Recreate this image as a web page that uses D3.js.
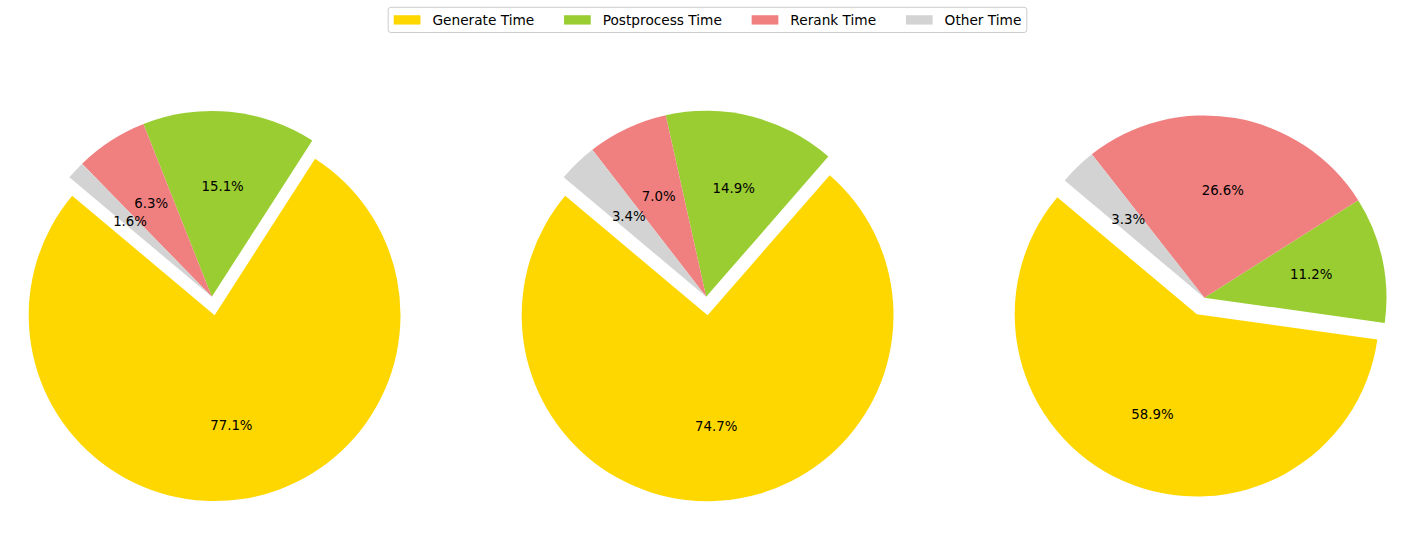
<!DOCTYPE html>
<html>
<head>
<meta charset="utf-8">
<script src="https://cdn.jsdelivr.net/npm/d3@7"></script>
<style>
  html, body { margin: 0; padding: 0; background: #fff; }
  text { font-family: "DejaVu Sans", sans-serif; }
</style>
</head>
<body>
<script>
// ---------------- data ----------------
const categories = ["Generate Time", "Postprocess Time", "Rerank Time", "Other Time"];
const pie1Values = [77.1, 15.1, 6.3, 1.6];
const pie2Values = [74.7, 14.9, 7.0, 3.4];
const pie3Values = [58.9, 11.2, 26.6, 3.3];
const explodeValues = [0.1, 0, 0, 0];

// ---------------- style / layout ----------------
const colors = ["#FFD700", "#9ACD32", "#F08080", "#D3D3D3"];
const W = 1415, H = 547;
const startAngleDeg = 140;           // matplotlib-style start angle (counter-clockwise from +x)
const axesCentersX = [214.6, 707.6, 1200.6];
const axesCenterY = 306;
const axesW = 409, axesH = 440, margin = 0.05;
const fontSize = 13.33;
const legendFontSize = 13.7;

const svg = d3.select("body").append("svg").attr("width", W).attr("height", H);

const a0 = Math.PI / 2 - startAngleDeg * Math.PI / 180;
const pieGen = d3.pie().sort(null).value(d => d).startAngle(a0).endAngle(a0 - 2 * Math.PI);

function drawPie(values, acx, acy) {
  const arcsData = pieGen(values);
  arcsData.forEach((d, i) => {
    const m = (d.startAngle + d.endAngle) / 2;
    d.mid = m;
    d.ox = explodeValues[i] * Math.sin(m);
    d.oy = explodeValues[i] * Math.cos(m);
  });
  let xs = [], ys = [];
  arcsData.forEach(d => {
    const lo = Math.min(d.startAngle, d.endAngle), hi = Math.max(d.startAngle, d.endAngle);
    const angs = [lo, hi];
    for (let k = Math.ceil(lo / (Math.PI / 2)); k * Math.PI / 2 <= hi; k++) angs.push(k * Math.PI / 2);
    xs.push(d.ox); ys.push(d.oy);
    angs.forEach(a => { xs.push(d.ox + Math.sin(a)); ys.push(d.oy + Math.cos(a)); });
  });
  const xmin = d3.min(xs), xmax = d3.max(xs), ymin = d3.min(ys), ymax = d3.max(ys);
  const dx = xmax - xmin, dy = ymax - ymin;
  const s = Math.min(axesW / (dx * (1 + 2 * margin)), axesH / (dy * (1 + 2 * margin)));
  const mx = (xmin + xmax) / 2, my = (ymin + ymax) / 2;
  const px = x => acx + (x - mx) * s;
  const py = y => acy - (y - my) * s;

  const arc = d3.arc().innerRadius(0).outerRadius(s);
  const g = svg.append("g");
  g.selectAll("path.slice").data(arcsData).join("path")
    .attr("class", "slice")
    .attr("transform", d => `translate(${px(d.ox)},${py(d.oy)})`)
    .attr("d", arc)
    .attr("fill", (d, i) => colors[i]);

  g.selectAll("text.pct").data(arcsData).join("text")
    .attr("class", "pct")
    .attr("x", d => px(d.ox + 0.6 * Math.sin(d.mid)))
    .attr("y", d => py(d.oy + 0.6 * Math.cos(d.mid)))
    .attr("dy", "0.36em")
    .attr("text-anchor", "middle")
    .attr("font-size", fontSize)
    .attr("fill", "#000")
    .text(d => d.data.toFixed(1) + "%");
}

drawPie(pie1Values, axesCentersX[0], axesCenterY);
drawPie(pie2Values, axesCentersX[1], axesCenterY);
drawPie(pie3Values, axesCentersX[2], axesCenterY);

// ---------------- legend ----------------
const em = fontSize;
const handleW = 26.7, handleH = 0.7 * em, handlePad = 12, colSpacing = 29.8;
const padL = 5.6, padR = 5.5;
const legend = svg.append("g");
const frame = legend.append("rect");
const items = legend.selectAll("g.item").data(categories).join("g").attr("class", "item");
items.append("rect").attr("width", handleW).attr("height", handleH).attr("fill", (d, i) => colors[i]);
const texts = items.append("text").attr("font-size", legendFontSize).attr("fill", "#000").text(d => d);
const widths = [];
texts.each(function () { widths.push(this.getComputedTextLength()); });
let totalW = 0;
widths.forEach((w, i) => { totalW += handleW + handlePad + w + (i < widths.length - 1 ? colSpacing : 0); });
const boxW = totalW + padL + padR;
const boxH = 25.2;
const boxX = W / 2 - boxW / 2, boxY = 7.3;
frame.attr("x", boxX).attr("y", boxY).attr("width", boxW).attr("height", boxH)
  .attr("rx", 2.7).attr("ry", 2.7)
  .attr("fill", "#fff").attr("fill-opacity", 0.8)
  .attr("stroke", "#cccccc").attr("stroke-width", 1);
let cx = boxX + padL;
const midY = boxY + boxH / 2;
items.each(function (d, i) {
  const gi = d3.select(this);
  gi.select("rect").attr("x", cx).attr("y", midY - handleH / 2);
  gi.select("text").attr("x", cx + handleW + handlePad).attr("y", midY).attr("dy", "0.36em");
  cx += handleW + handlePad + widths[i] + colSpacing;
});
</script>
</body>
</html>
